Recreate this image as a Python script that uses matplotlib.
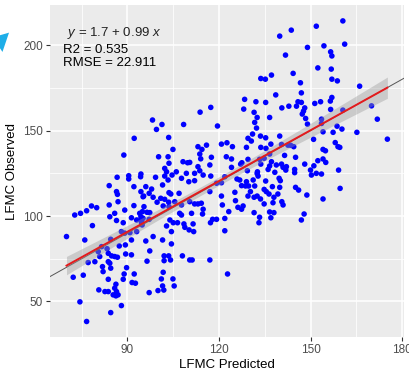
import numpy as np
import matplotlib
matplotlib.use("Agg")
import matplotlib.pyplot as plt
from matplotlib.patches import Polygon

plt.rcParams['font.family'] = ['Liberation Sans', 'DejaVu Sans']
plt.rcParams['mathtext.fontset'] = 'custom'
plt.rcParams['mathtext.rm'] = 'Liberation Sans'
plt.rcParams['mathtext.it'] = 'Liberation Sans:italic'

# LFMC predicted (x) and observed (y)
predicted = [
    92.2, 88.8, 94.4, 98.2, 99.5, 101.3, 108.4, 113.8, 117.3, 119.5, 103.5, 104.9, 100.2, 103.3,
    103.6, 102.2, 106.0, 108.2, 109.7, 110.4, 113.1, 114.4, 115.9, 113.7, 114.0, 117.5, 117.0,
    113.1, 113.7, 120.8, 122.6, 122.4, 109.3,
    139.9, 143.7, 149.0, 141.8, 151.9, 133.7, 135.2, 137.2, 144.3, 146.7, 147.0, 138.6, 128.4,
    132.1, 135.3, 128.1, 131.5, 132.5, 136.6, 140.6, 142.9, 145.4, 145.9, 147.0, 148.1, 147.7,
    147.3, 148.4, 149.0, 151.4, 131.7, 132.3, 131.0, 133.6, 129.5, 130.6, 135.3, 139.9, 124.4,
    129.0, 133.7, 135.4, 137.0, 140.5, 142.6, 143.5, 144.5, 124.1, 129.5, 133.3, 134.8, 136.6,
    141.5, 145.1, 127.5, 127.1, 133.7, 137.2, 138.8, 140.5, 148.1, 124.1, 129.3, 132.6, 136.6,
    136.1, 141.0, 142.1, 141.9, 144.8, 150.0,
    160.6, 161.2, 154.4, 156.6, 157.0, 152.4, 156.8, 157.0, 158.8, 166.1, 153.3, 156.5, 157.0,
    156.6, 160.6, 170.0, 171.9, 175.2, 153.6, 153.6, 154.1, 157.4, 158.7, 160.3, 165.2, 151.0,
    158.1, 159.0, 159.6, 154.1, 154.9, 152.4, 154.1, 155.0, 151.1, 159.2, 151.9, 153.6,
    150.3, 159.7, 154.1,
    132.5, 132.8, 138.3, 139.7, 140.1, 144.8, 125.9, 126.8, 129.0, 131.2, 135.3, 127.4, 128.7,
    129.7, 131.7, 137.5, 139.9, 145.1, 146.1, 125.2, 130.3, 134.8, 135.5, 136.4, 139.3, 148.8,
    129.5, 131.5, 132.5, 133.6, 138.0, 125.4, 137.7, 140.6, 141.0, 134.8, 126.2, 127.9, 127.4,
    123.2, 131.5, 136.6, 138.0, 133.3, 133.1, 137.0, 147.9, 147.0, 121.9, 122.8,
    99.2, 102.2, 102.8, 104.6, 107.7, 110.1, 112.0, 112.0, 114.8, 117.3, 119.2, 120.8, 121.9,
    96.0, 97.9, 97.1, 95.3, 98.4, 101.5, 103.3, 103.6, 104.2, 106.9, 100.9, 102.2, 103.5, 105.5,
    99.7, 110.4, 112.0, 113.1, 114.2, 114.8, 114.6, 117.0, 120.8, 121.1, 95.4, 101.7, 103.6,
    107.7, 107.1, 107.7, 111.0, 94.9, 96.4, 97.3, 94.4, 95.1, 97.1, 94.6, 103.9, 105.0, 106.4,
    108.5, 111.5, 117.2, 117.9, 119.2, 121.9, 102.8, 108.8, 110.2, 111.7, 104.4, 98.4, 96.0,
    101.5, 104.4, 97.3, 102.0, 103.5, 108.0, 104.1, 102.0, 110.4, 111.2, 117.0, 96.4, 101.7,
    101.1, 104.9, 101.5, 105.3, 101.9, 100.0, 97.1,
    86.6, 90.4, 90.4, 94.3, 84.0, 92.1, 86.4, 86.7, 94.4, 95.1, 86.9, 92.1, 84.0, 78.2, 79.9,
    76.6, 74.6, 72.7, 85.8, 89.1, 94.0, 84.2, 86.4, 88.6, 91.3, 93.0, 94.6, 78.5, 88.0, 89.1,
    90.8, 93.0, 94.8, 70.0, 76.0, 84.5, 91.3, 89.3, 81.5, 83.3, 87.3, 80.4, 80.9, 83.7, 84.8,
    85.8, 86.7, 89.4, 91.3, 77.1, 79.3, 83.7, 84.2, 81.8, 84.5, 89.7, 82.0, 88.9, 92.2, 72.2,
    75.5, 83.7, 88.6, 91.5, 92.6, 86.2, 85.8, 80.6, 82.6, 83.7, 86.4, 85.3, 86.2, 86.9, 74.4,
    88.0, 84.5, 76.6,
]
observed = [
    145.5, 135.7, 124.6, 156.2, 150.7, 153.6, 153.6, 160.8, 163.6, 152.7, 146.0, 139.0, 134.7, 134.7,
    130.9, 127.9, 125.9, 131.8, 131.2, 131.4, 140.6, 139.0, 141.5, 136.3, 133.5, 134.4, 129.9,
    128.9, 126.5, 142.1, 142.9, 134.7, 125.0,
    205.3, 208.8, 198.7, 194.2, 211.1, 180.5, 180.1, 182.5, 183.5, 178.0, 172.1, 170.9, 168.3,
    166.9, 166.5, 162.6, 160.7, 157.7, 157.7, 163.3, 164.3, 164.3, 166.9, 166.5, 163.3, 161.4,
    159.7, 157.1, 153.8, 165.9, 154.8, 151.5, 148.0, 146.8, 145.5, 143.9, 145.8, 146.8, 140.6,
    140.2, 140.2, 139.6, 142.1, 141.9, 141.5, 141.4, 140.6, 133.4, 133.2, 133.2, 133.8, 136.3,
    135.5, 134.4, 131.2, 130.4, 130.4, 131.8, 129.9, 130.4, 130.4, 128.5, 126.5, 125.9, 129.3,
    127.3, 128.5, 128.9, 126.9, 127.3, 126.9,
    214.2, 200.6, 199.6, 196.1, 193.7, 186.7, 186.0, 180.1, 179.1, 176.0, 166.9, 167.3, 169.4,
    162.4, 162.0, 164.5, 156.7, 145.0, 156.7, 154.2, 149.3, 149.0, 152.6, 150.9, 149.0, 144.9,
    143.0, 140.6, 140.2, 139.0, 138.2, 132.4, 133.4, 131.4, 129.4, 126.9, 125.0, 124.6,
    124.0, 116.2, 110.0,
    124.9, 123.4, 125.6, 122.1, 120.7, 125.4, 121.7, 121.1, 120.1, 121.1, 120.5, 117.8, 117.6,
    117.6, 117.6, 117.2, 116.8, 116.8, 115.2, 113.9, 114.3, 115.6, 114.3, 112.9, 112.9, 112.3,
    111.7, 111.0, 111.7, 110.0, 111.0, 109.0, 107.8, 108.4, 106.5, 107.1, 105.1, 105.9, 104.0,
    102.6, 102.0, 102.4, 102.0, 99.3, 96.1, 99.0, 101.2, 97.7, 91.4, 66.1,
    122.7, 123.4, 125.9, 124.0, 122.1, 120.1, 125.0, 120.7, 124.0, 123.4, 119.2, 119.5, 123.0,
    117.2, 115.8, 113.3, 111.7, 111.0, 118.2, 121.1, 113.7, 112.9, 113.3, 110.4, 109.8, 108.1, 108.4,
    108.1, 108.4, 107.1, 107.1, 107.5, 104.0, 101.2, 114.3, 111.7, 106.5, 105.5, 105.9, 105.5,
    106.5, 101.6, 100.6, 101.6, 102.6, 102.2, 102.0, 99.6, 98.7, 98.1, 96.1, 97.7, 96.1, 96.1,
    95.4, 95.4, 96.1, 98.1, 98.1, 98.6, 94.2, 93.4, 91.9, 90.9, 90.9, 88.0, 85.4,
    86.0, 83.7, 79.6, 76.7, 76.7, 76.7, 74.3, 73.9, 74.3, 74.3, 74.3, 73.6, 67.1,
    63.2, 63.2, 59.1, 59.1, 56.7, 56.4, 55.2,
    122.7, 121.7, 123.6, 123.0, 117.8, 117.2, 114.3, 112.7, 114.3, 111.3, 108.4, 106.1, 106.5, 105.9, 104.9,
    103.1, 101.6, 100.6, 101.6, 103.5, 101.6, 99.6, 97.4, 96.1, 99.0, 97.7, 97.7, 94.4, 90.9, 90.0,
    90.3, 90.9, 94.8, 88.0, 86.0, 86.4, 86.0, 83.1, 82.1, 80.9, 82.5, 79.2, 76.3, 78.2, 76.7,
    76.3, 75.9, 77.8, 77.3, 72.8, 73.3, 73.3, 72.4, 70.4, 69.5, 69.8, 67.5, 66.1, 66.1, 64.2,
    65.4, 63.0, 63.0, 61.1, 60.7, 60.1, 57.8, 56.8, 55.8, 55.8, 55.8, 53.9, 53.3, 53.9, 49.8,
    47.6, 43.5, 38.3,
]

intercept = 1.7
slope = 0.99
r2 = 0.535
rmse = 22.911

x = np.array(predicted)
y = np.array(observed)

# confidence band of the fitted line
xs = np.linspace(x.min(), x.max(), 100)
fit = intercept + slope * xs
resid = y - (intercept + slope * x)
s = np.sqrt(np.sum(resid ** 2) / (len(x) - 2))
se = s * np.sqrt(1 / len(x) + (xs - x.mean()) ** 2 / np.sum((x - x.mean()) ** 2))
lo, hi = fit - 1.966 * se, fit + 1.966 * se

fig = plt.figure(figsize=(4.1, 3.71), dpi=100)
ax = fig.add_axes([0.122, 0.092, 0.863, 0.894])
ax.set_facecolor('#EBEBEB')
for sp in ax.spines.values():
    sp.set_visible(False)

ax.set_xlim(64.6, 180.6)
ax.set_ylim(29.3, 223.4)
ax.set_xticks([90, 120, 150, 180])
ax.set_yticks([50, 100, 150, 200])
ax.set_xticks([75, 105, 135, 165], minor=True)
ax.set_yticks([75, 125, 175], minor=True)
ax.grid(which='major', color='white', lw=1.1)
ax.grid(which='minor', color='white', lw=0.55)
ax.set_axisbelow(True)
ax.tick_params(which='major', length=3, color='#333333', labelcolor='#4D4D4D', labelsize=8.5, pad=2)
ax.tick_params(which='minor', length=0)

ax.scatter(x, y, s=16, color='blue', edgecolors='none', zorder=2)
lim = np.array(ax.get_xlim())
ax.plot(lim, lim, color='#555555', lw=0.7, zorder=3)
ax.fill_between(xs, lo, hi, color='#999999', alpha=0.4, lw=0, zorder=4)
ax.plot(xs, fit, color='#E41A1C', lw=1.4, zorder=5)

ax.text(0.048, 0.916, r'$y$ = 1.7 + 0.99 $x$', transform=ax.transAxes,
        fontsize=9.5, color='#222222', va='center')
ax.text(0.036, 0.864, 'R2 = %.3f' % r2, transform=ax.transAxes,
        fontsize=9.5, color='black', va='center')
ax.text(0.036, 0.825, 'RMSE = %.3f' % rmse, transform=ax.transAxes,
        fontsize=9.5, color='black', va='center')

ax.set_xlabel('LFMC Predicted', fontsize=9.5, labelpad=2)
ax.set_ylabel('LFMC Observed', fontsize=9.5, labelpad=4)

# cyan fragment at the left edge
fig.patches.append(Polygon([[0, 0.905], [0.022, 0.912], [0.006, 0.86], [0, 0.87]],
                           closed=True, transform=fig.transFigure,
                           facecolor='#1EAEE8', edgecolor='none'))

fig.savefig('out.png', dpi=100)
